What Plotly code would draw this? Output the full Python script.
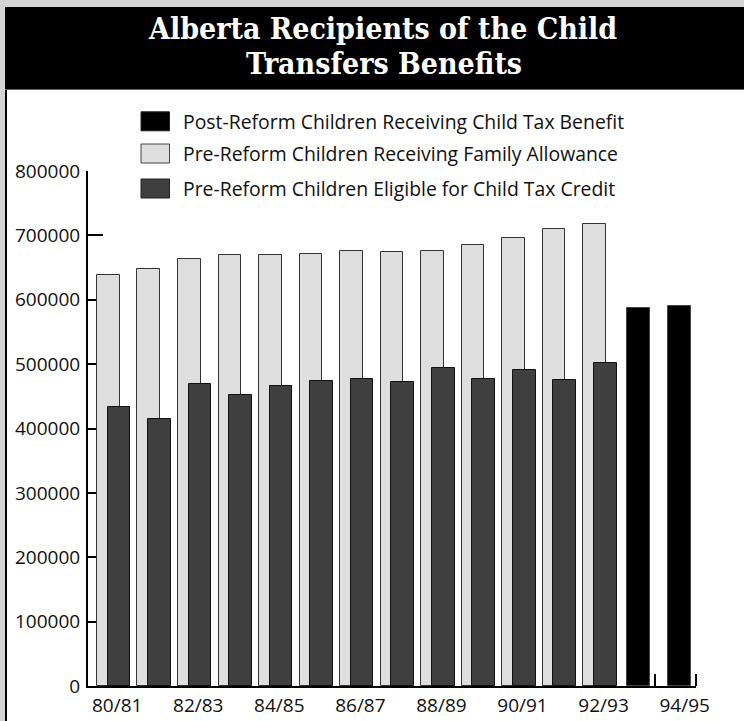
import plotly.graph_objects as go

# ---- data -------------------------------------------------------------
seasons = ["80/81", "81/82", "82/83", "83/84", "84/85", "85/86", "86/87", "87/88",
           "88/89", "89/90", "90/91", "91/92", "92/93", "93/94", "94/95"]

family_allowance = [639000, 648500, 663000, 669500, 669000, 671000, 675500,
                    674000, 676500, 685000, 696000, 710000, 717500]
child_tax_credit = [433000, 414000, 469500, 452000, 466000, 474500, 477000,
                    472000, 493500, 476500, 490500, 475000, 502500]
child_tax_benefit = [586500, 590000]

y_ticks = [0, 100000, 200000, 300000, 400000, 500000, 600000, 700000, 800000]

name_benefit = "Post-Reform Children Receiving Child Tax Benefit"
name_allowance = "Pre-Reform Children Receiving Family Allowance"
name_credit = "Pre-Reform Children Eligible for Child Tax Credit"

title_lines = ["Alberta Recipients of the Child", "Transfers Benefits"]

# ---- styling ----------------------------------------------------------
W, H = 744, 721
ML, MR, MT, MB = 88, 48, 171, 35
PW, PH = W - ML - MR, H - MT - MB

C_LIGHT = "#dedede"
C_DARK = "#3f3f3f"
C_BLACK = "#000000"
FONT = "Open Sans, Liberation Sans, sans-serif"
TITLE_FONT = "DejaVu Serif Condensed, DejaVu Serif, Liberation Serif, serif"


def fx(px):
    """pixel column -> paper x"""
    return (px - ML) / PW


def fy(py):
    """pixel row -> paper y"""
    return (H - MB - py) / PH


n_pre = len(family_allowance)
x_pre = list(range(n_pre))
x_post = list(range(n_pre, n_pre + len(child_tax_benefit)))

fig = go.Figure()
fig.add_trace(go.Bar(
    x=x_pre, y=family_allowance, name=name_allowance,
    width=0.56, offset=-0.28,
    marker=dict(color=C_LIGHT, line=dict(color="#333333", width=1)),
    showlegend=False, opacity=1,
))
fig.add_trace(go.Bar(
    x=x_pre, y=child_tax_credit, name=name_credit,
    width=0.56, offset=-0.017,
    marker=dict(color=C_DARK, line=dict(color="#111111", width=1)),
    showlegend=False, opacity=1,
))
fig.add_trace(go.Bar(
    x=x_post, y=child_tax_benefit, name=name_benefit,
    width=0.575, offset=-0.198,
    marker=dict(color=C_BLACK, line=dict(color="#444444", width=1)),
    showlegend=False, opacity=1,
))

# ---- frame, banner --------------------------------------------------------
shapes = [
    dict(type="rect", xref="paper", yref="paper",
         x0=fx(6), x1=fx(770), y0=fy(760), y1=fy(89),
         fillcolor="white", line=dict(color="black", width=2), layer="below"),
    dict(type="rect", xref="paper", yref="paper",
         x0=fx(5), x1=fx(770), y0=fy(89.5), y1=fy(7),
         fillcolor="black", line=dict(width=0), layer="below"),
    dict(type="line", xref="paper", yref="paper",
         x0=fx(5), x1=fx(770), y0=fy(89.5), y1=fy(89.5),
         line=dict(color="#666666", width=1), layer="below"),
]

annotations = [
    dict(text="<b>%s</b>" % title_lines[0], xref="paper", yref="paper",
         x=fx(382), y=fy(29), xanchor="center", yanchor="middle", showarrow=False,
         font=dict(family=TITLE_FONT, size=30, color="white")),
    dict(text="<b>%s</b>" % title_lines[1], xref="paper", yref="paper",
         x=fx(384), y=fy(63), xanchor="center", yanchor="middle", showarrow=False,
         font=dict(family=TITLE_FONT, size=30, color="white")),
]

# ---- legend (drawn by hand for large swatches) -------------------------------
legend_items = [(name_benefit, C_BLACK, "#222222"),
                (name_allowance, C_LIGHT, "#444444"),
                (name_credit, C_DARK, "#222222")]
legend_rows = [121.3, 153.5, 188.5]
for (label, fill, edge), yc in zip(legend_items, legend_rows):
    shapes.append(dict(type="rect", xref="paper", yref="paper",
                       x0=fx(141), x1=fx(169.5), y0=fy(yc + 9.5), y1=fy(yc - 9.5),
                       fillcolor=fill, line=dict(color=edge, width=1)))
    annotations.append(dict(text=label, xref="paper", yref="paper",
                            x=fx(181), y=fy(yc), xanchor="left", yanchor="middle",
                            showarrow=False,
                            font=dict(family=FONT, size=19.4, color="#111111")))

fig.update_layout(
    width=W, height=H,
    margin=dict(l=ML, r=MR, t=MT, b=MB, pad=0, autoexpand=False),
    paper_bgcolor="#d4d4d4", plot_bgcolor="white",
    barmode="overlay", bargap=0,
    showlegend=False, hovermode=False,
    font=dict(family=FONT, size=19, color="#111111"),
    shapes=shapes, annotations=annotations,
    xaxis=dict(
        range=[-0.5, len(seasons) - 0.5], automargin=False,
        tickvals=[i + 0.22 for i in range(0, len(seasons), 2)],
        ticktext=seasons[::2],
        ticks="", ticklabelstandoff=1,
        minor=dict(tickvals=[i + 0.5 for i in range(len(seasons))],
                   ticks="inside", ticklen=12, tickwidth=1.5, tickcolor="black"),
        showline=True, linecolor="black", linewidth=1.5,
        showgrid=False, zeroline=False, layer="below traces",
        tickfont=dict(family=FONT, size=19, color="#111111"),
    ),
    yaxis=dict(
        range=[0, 800000], automargin=False,
        tickvals=y_ticks, ticktext=[str(v) for v in y_ticks],
        ticks="inside", ticklen=15, tickwidth=2, tickcolor="black",
        showline=True, linecolor="black", linewidth=2,
        showgrid=False, zeroline=False, layer="below traces",
        ticklabelstandoff=2,
        tickfont=dict(family=FONT, size=19, color="#111111"),
    ),
)

fig.write_html("out.html")
